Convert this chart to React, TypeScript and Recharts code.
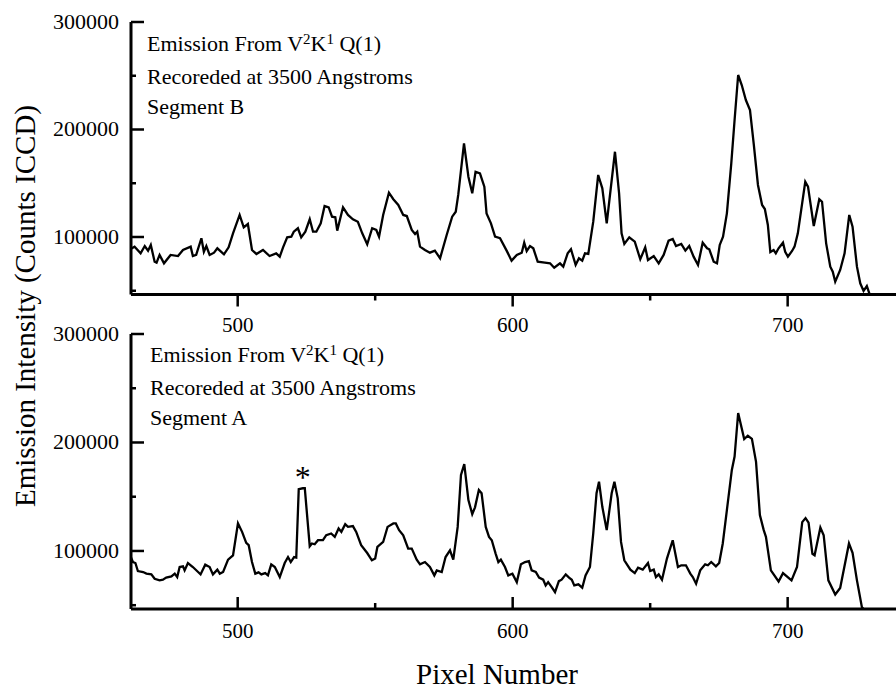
import { Line, LineChart, ReferenceDot, ReferenceLine, XAxis, YAxis } from "recharts";

// pixel number, counts (ICCD)
const segmentB: [number, number][] = [
  [461.2, 89000], [462.5, 91000], [464.7, 84800], [466.2, 91600], [467.4, 87300], [468.4, 92600], [469.8, 77000],
  [470.5, 76100], [471.6, 83300], [473.2, 75500], [475.6, 83300], [478.3, 82300], [480.1, 87900], [482.9, 91000],
  [483.7, 82300], [484.9, 83300], [486.8, 98800], [487.7, 86300], [488.6, 91600], [489.8, 83300], [491.4, 85400],
  [492.6, 89500], [495.0, 83900], [496.7, 90400], [498.3, 103400], [500.7, 120500], [502.2, 109000], [503.7, 112100],
  [505.2, 87900], [506.8, 84200], [509.2, 87900], [511.6, 82300], [514.0, 84800], [515.3, 81700], [516.5, 90400],
  [518.0, 99700], [519.5, 100300], [520.4, 104900], [521.9, 108100], [523.1, 99700], [524.6, 104900], [526.2, 116500],
  [527.4, 104900], [528.6, 104900], [530.2, 112700], [531.6, 128800], [533.1, 127600], [534.3, 118900], [535.5, 118300],
  [536.2, 105900], [538.3, 127600], [540.1, 120500], [541.9, 116500], [543.7, 114200], [545.3, 103400], [547.1, 93200],
  [548.9, 108100], [550.4, 106500], [551.4, 100300], [552.9, 120500], [555.0, 141200], [556.6, 135100], [558.4, 129800],
  [560.2, 120500], [561.5, 119500], [563.3, 106500], [564.5, 102800], [565.3, 104900], [566.3, 91000], [568.1, 87900],
  [569.9, 85400], [571.7, 87300], [573.6, 80200], [576.0, 101900], [578.0, 118900], [579.3, 123500], [580.2, 139100],
  [582.3, 187100], [583.9, 156100], [585.3, 140600], [586.5, 160700], [588.1, 159200], [589.7, 146800], [590.5, 122000],
  [592.1, 112700], [593.6, 100300], [595.4, 98800], [597.8, 87300], [599.6, 78000], [601.5, 83300], [603.3, 85400],
  [604.2, 94700], [605.1, 87000], [606.3, 91600], [607.5, 89500], [609.1, 77000], [611.7, 76100], [613.6, 75500],
  [615.1, 71400], [617.2, 75500], [618.4, 72400], [620.0, 84800], [621.2, 88600], [622.9, 74000], [624.1, 80200],
  [625.3, 78000], [626.3, 84800], [627.5, 84200], [629.3, 114200], [631.1, 157700], [632.6, 145300], [634.2, 112700],
  [637.2, 179300], [638.7, 140600], [639.6, 103400], [640.6, 93500], [642.4, 99700], [644.4, 95600], [646.4, 79300],
  [648.2, 90400], [649.2, 78600], [651.3, 82300], [653.1, 75500], [654.9, 83300], [656.7, 96600], [658.2, 98100],
  [659.4, 91600], [661.3, 93500], [662.8, 87300], [664.2, 91600], [665.8, 81700], [667.4, 74000], [669.1, 94700],
  [670.7, 89500], [671.5, 88600], [673.1, 77000], [674.3, 75500], [675.3, 92600], [676.5, 100300], [677.9, 122000],
  [679.5, 168500], [680.7, 208800], [682.0, 250700], [683.3, 241400], [684.8, 227400], [686.3, 218100], [687.7, 185600],
  [689.2, 148400], [690.7, 129800], [691.7, 126000], [692.8, 111200], [693.7, 86000], [694.9, 87900], [695.7, 84800],
  [696.7, 89500], [698.3, 94700], [699.1, 86300], [700.1, 81700], [701.6, 87000], [702.5, 91000], [703.7, 103400],
  [706.4, 151400], [707.4, 146800], [709.5, 110200], [711.5, 135100], [712.5, 132800], [714.0, 94100], [715.5, 72400],
  [716.4, 67700], [717.3, 58400], [719.1, 69300], [720.7, 84800], [722.4, 120500], [723.6, 109600], [725.2, 72400],
  [726.4, 56900], [727.6, 49800], [728.8, 54400], [729.7, 47600],
];

const segmentA: [number, number][] = [
  [461.2, 94000], [461.9, 89800], [462.8, 88900], [463.7, 81500], [465.6, 80600], [466.8, 79100], [468.6, 78400],
  [469.8, 74400], [471.6, 72900], [472.8, 73500], [474.0, 75400], [475.9, 76600], [477.1, 79100], [478.0, 75900],
  [478.9, 85200], [480.1, 85800], [480.7, 82100], [481.9, 88900], [483.7, 85200], [485.6, 80600], [486.5, 78400],
  [488.2, 87400], [489.8, 85200], [491.0, 78400], [492.6, 82800], [493.5, 79100], [494.7, 80600], [496.5, 92000],
  [498.3, 96000], [500.1, 125400], [501.6, 117600], [503.1, 107400], [504.0, 105300], [505.2, 89800], [506.4, 79100],
  [507.6, 80300], [508.6, 78400], [510.0, 79600], [511.0, 77500], [512.2, 87700], [513.5, 85200], [515.3, 75900],
  [517.1, 88900], [518.3, 94400], [519.3, 89800], [520.5, 94400], [521.3, 93900], [522.2, 156900], [523.7, 157800],
  [524.4, 157800], [526.2, 104400], [527.0, 106900], [528.0, 106200], [529.2, 109900], [531.0, 109900], [532.2, 114500],
  [534.0, 116100], [535.3, 113000], [536.7, 120700], [537.7, 117600], [539.1, 124700], [540.1, 122200], [541.9, 122900],
  [543.1, 117600], [544.9, 105300], [547.1, 98100], [548.8, 91400], [550.0, 93000], [550.8, 103700], [552.9, 108300],
  [554.5, 122200], [556.6, 125400], [557.5, 125400], [558.7, 119200], [560.2, 114500], [562.0, 102200], [563.3, 102200],
  [565.1, 92000], [566.3, 87700], [568.1, 89800], [569.9, 85200], [571.5, 77500], [572.4, 82100], [574.2, 80600],
  [575.6, 94400], [577.2, 100600], [578.4, 92000], [580.0, 122200], [581.2, 170100], [582.4, 180000], [583.9, 146900],
  [585.3, 134000], [586.3, 140200], [587.7, 156200], [588.7, 153200], [590.2, 122200], [591.4, 113000], [592.4, 109900],
  [593.8, 97600], [594.8, 89800], [595.7, 92000], [597.2, 85200], [598.4, 77500], [599.9, 79100], [601.5, 71300],
  [603.0, 87700], [604.5, 89800], [605.9, 90700], [606.9, 82100], [608.4, 80600], [609.6, 75400], [611.1, 73500],
  [612.0, 68200], [612.9, 71300], [614.2, 66700], [615.4, 62000], [616.8, 72200], [617.8, 73500], [619.3, 78400],
  [620.5, 75400], [621.5, 73500], [622.4, 68200], [623.9, 69200], [625.3, 66100], [626.5, 77500], [628.1, 85200],
  [629.3, 116100], [630.5, 153200], [631.4, 163900], [632.6, 140700], [634.2, 119200], [636.0, 153200], [637.0, 163900],
  [638.2, 148500], [639.4, 108300], [640.6, 91400], [642.8, 82800], [644.4, 79600], [645.6, 84600], [647.3, 82800],
  [649.2, 88900], [650.0, 81500], [651.3, 82800], [652.1, 75900], [653.1, 78400], [654.3, 73500], [656.1, 93000],
  [658.2, 109900], [660.1, 85200], [661.3, 86800], [663.0, 86800], [664.6, 79100], [665.5, 75900], [666.7, 69800],
  [668.2, 82100], [670.0, 87700], [671.0, 86800], [672.2, 89800], [673.9, 85800], [675.1, 88900], [676.4, 106900],
  [677.9, 137700], [679.7, 174700], [680.7, 187000], [682.0, 227200], [684.2, 203200], [685.5, 206200], [687.0, 203400],
  [688.5, 182100], [689.9, 133100], [691.3, 119200], [692.1, 113000], [693.9, 82100], [696.7, 71900], [698.3, 79600],
  [701.4, 72900], [703.4, 85200], [705.3, 126600], [706.5, 130300], [707.6, 126100], [709.0, 97400], [709.8, 96000],
  [711.9, 121500], [713.1, 114500], [714.8, 72900], [717.3, 59900], [719.1, 65900], [722.3, 106900], [723.6, 98300],
  [725.2, 72900], [727.0, 48100], [727.5, 47000],
];

const xTicks = [500, 550, 600, 650, 700];
const xMajor = [500, 600, 700];
const yTicks = [50000, 100000, 150000, 200000, 250000, 300000];
const yMajor = [100000, 200000, 300000];
const xDomain = [461.2, 739.4];
const yDomain = [46500, 300000];

const line2 = "Recoreded at 3500 Angstroms";
const starPeak = { pixel: 523.7, counts: 157800 };

const font = "'Liberation Serif', 'Times New Roman', serif";

const rowsB = segmentB.map(([pixel, counts]) => ({ pixel, counts }));
const rowsA = segmentA.map(([pixel, counts]) => ({ pixel, counts }));

// plot sizes, used to turn tick lengths (px) into data units
const plotW = 896 - 131;
const plotHTop = 340 - 22 - 45.5;
const plotHBottom = 378 - 22 - 81;
const xPerPx = (xDomain[1] - xDomain[0]) / plotW;
const yPerPxTop = (yDomain[1] - yDomain[0]) / plotHTop;
const yPerPxBottom = (yDomain[1] - yDomain[0]) / plotHBottom;

function YTick(props: any) {
  const x = Number(props.x);
  const y = Number(props.y);
  const value = props.payload.value;
  if (!yMajor.includes(value)) return <g />;
  return (
    <text x={x - 12} y={y + 7} textAnchor="end" fontSize={22} fontFamily={font} fill="#000">
      {value}
    </text>
  );
}

function XTickTop(props: any) {
  const value = props.payload.value;
  if (!xMajor.includes(value)) return <g />;
  return (
    <text x={Number(props.x)} y={Number(props.y) + 37} textAnchor="middle" fontSize={21} fontFamily={font} fill="#000">
      {value}
    </text>
  );
}

function XTickBottom(props: any) {
  const value = props.payload.value;
  if (!xMajor.includes(value)) return <g />;
  return (
    <text x={Number(props.x)} y={Number(props.y) + 29} textAnchor="middle" fontSize={21} fontFamily={font} fill="#000">
      {value}
    </text>
  );
}

// tick marks as reference segments: y ticks point into the plot,
// x ticks hang below (top panel) or stand up into the plot (bottom panel)
function tickMarks(yPerPx: number, xOutward: boolean) {
  const marks = [];
  for (const v of yTicks) {
    const len = yMajor.includes(v) ? 13 : 5;
    marks.push(
      <ReferenceLine
        key={`y${v}`}
        segment={[{ x: xDomain[0], y: v }, { x: xDomain[0] + len * xPerPx, y: v }]}
        stroke="#000"
        strokeWidth={2.5}
        ifOverflow="visible"
      />
    );
  }
  for (const v of xTicks) {
    const len = (xMajor.includes(v) ? 12 : 6) * yPerPx;
    const end = xOutward ? yDomain[0] - len : yDomain[0] + len;
    marks.push(
      <ReferenceLine
        key={`x${v}`}
        segment={[{ x: v, y: yDomain[0] }, { x: v, y: end }]}
        stroke="#000"
        strokeWidth={2.5}
        ifOverflow="visible"
      />
    );
  }
  return marks;
}

const sup = { fontSize: 15, position: "relative" as const, top: -7 };

function Note({ left, top, segment }: { left: number; top: number; segment: string }) {
  return (
    <div
      style={{
        position: "absolute",
        left,
        top,
        fontFamily: font,
        fontSize: 22,
        lineHeight: "30.5px",
        whiteSpace: "nowrap",
        color: "#000",
      }}
    >
      <div>
        Emission From V<span style={sup}>2</span>K<span style={sup}>1</span> Q(1)
      </div>
      <div>{line2}</div>
      <div>{segment}</div>
    </div>
  );
}

const axisLine = { stroke: "#000", strokeWidth: 3 };

export default function App() {
  return (
    <div style={{ position: "absolute", left: 0, top: 0, width: 896, height: 690 }}>
      <div style={{ position: "absolute", left: 0, top: 0 }}>
        <LineChart width={896} height={340} data={rowsB} margin={{ top: 22, right: 0, bottom: 0, left: 0 }}>
          <XAxis dataKey="pixel" type="number" domain={xDomain} ticks={xTicks} height={45.5} tickSize={0} tickMargin={0} tickLine={false} tick={XTickTop} axisLine={axisLine} />
          <YAxis type="number" domain={yDomain} ticks={yTicks} width={131} tickSize={0} tickMargin={0} tickLine={false} tick={YTick} axisLine={axisLine} />
          {tickMarks(yPerPxTop, true)}
          <Line type="linear" dataKey="counts" stroke="#000" strokeWidth={2.3} dot={false} isAnimationActive={false} />
        </LineChart>
      </div>
      <div style={{ position: "absolute", left: 0, top: 312 }}>
        <LineChart width={896} height={378} data={rowsA} margin={{ top: 22, right: 0, bottom: 0, left: 0 }}>
          <XAxis dataKey="pixel" type="number" domain={xDomain} ticks={xTicks} height={81} tickSize={0} tickMargin={0} tickLine={false} tick={XTickBottom} axisLine={axisLine} />
          <YAxis type="number" domain={yDomain} ticks={yTicks} width={131} tickSize={0} tickMargin={0} tickLine={false} tick={YTick} axisLine={axisLine} />
          {tickMarks(yPerPxBottom, false)}
          <Line type="linear" dataKey="counts" stroke="#000" strokeWidth={2.3} dot={false} isAnimationActive={false} />
          <ReferenceDot
            x={starPeak.pixel}
            y={starPeak.counts}
            r={0}
            fill="none"
            stroke="none"
            label={{ value: "*", position: "top", offset: 0, fontSize: 32, fill: "#000", fontFamily: font }}
          />
        </LineChart>
      </div>
      <Note left={147} top={29.3} segment="Segment B" />
      <Note left={150} top={340.3} segment="Segment A" />
      <div
        style={{
          position: "absolute",
          left: -204.8,
          top: 289,
          width: 460,
          height: 34,
          lineHeight: "34px",
          textAlign: "center",
          fontFamily: font,
          fontSize: 29,
          whiteSpace: "nowrap",
          transform: "rotate(-90deg)",
        }}
      >
        Emission Intensity (Counts ICCD)
      </div>
      <div
        style={{
          position: "absolute",
          left: 297,
          top: 659.2,
          width: 400,
          lineHeight: "30px",
          textAlign: "center",
          fontFamily: font,
          fontSize: 29,
          whiteSpace: "nowrap",
        }}
      >
        Pixel Number
      </div>
    </div>
  );
}
